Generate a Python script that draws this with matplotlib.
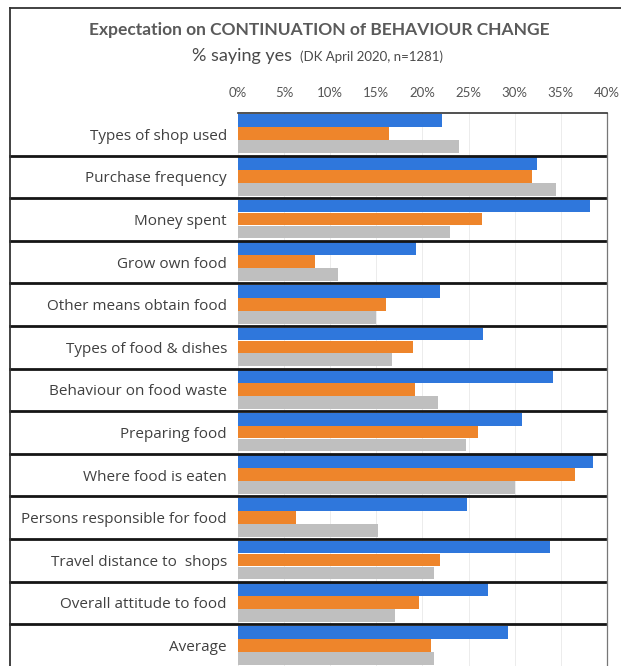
import matplotlib
matplotlib.use("Agg")
import matplotlib.pyplot as plt
from matplotlib.transforms import blended_transform_factory
import numpy as np

plt.rcParams['font.family'] = ['Lato', 'DejaVu Sans']

categories = [
    "Types of shop used",
    "Purchase frequency",
    "Money spent",
    "Grow own food",
    "Other means obtain food",
    "Types of food & dishes",
    "Behaviour on food waste",
    "Preparing food",
    "Where food is eaten",
    "Persons responsible for food",
    "Travel distance to  shops",
    "Overall attitude to food",
    "Average",
]

# % saying yes, three groups per behaviour
series_1 = [22.1, 32.4, 38.2, 19.3, 21.9, 26.6, 34.2, 30.8, 38.5, 24.8, 33.8, 27.1, 29.3]
series_2 = [16.4, 31.9, 26.4, 8.4, 16.0, 19.0, 19.2, 26.0, 36.5, 6.3, 21.9, 19.6, 20.9]
series_3 = [24.0, 34.5, 23.0, 10.8, 15.0, 16.7, 21.7, 24.7, 30.0, 15.2, 21.2, 17.0, 21.3]

tick_values = [0, 5, 10, 15, 20, 25, 30, 35, 40]
tick_labels = [f"{v}%" for v in tick_values]

W, H = 621, 666
fig = plt.figure(figsize=(W / 100, H / 100), dpi=100)
fig.patch.set_facecolor("white")

def fx(px):
    return px / W

def fy(py):
    return 1 - py / H

ax = fig.add_axes([fx(238), 0, fx(607) - fx(238), fy(113)])

n = len(categories)
y = np.arange(n)
bh = 0.30
colors = ["#2f77dc", "#ee852b", "#bfbfbf"]
for k, (vals, c) in enumerate(zip([series_1, series_2, series_3], colors)):
    ax.barh(y + (k - 1) * 0.305 - 0.01, vals, height=bh, color=c, zorder=3)

ax.set_xlim(0, 40)
ax.set_ylim(n - 0.5 - 0.02, -0.5)

ax.set_xticks(tick_values)
ax.set_xticklabels(tick_labels)
ax.xaxis.tick_top()
ax.tick_params(axis="x", length=0, pad=10, labelsize=9.5, labelcolor="#555555")
ax.set_yticks(y)
ax.set_yticklabels(categories, family=["Open Sans", "DejaVu Sans"])
ax.tick_params(axis="y", length=0, pad=8, labelsize=11, labelcolor="#404040")

ax.grid(axis="x", color="#ececec", lw=0.7, zorder=0)
ax.set_axisbelow(True)
for side in ["left", "bottom"]:
    ax.spines[side].set_visible(False)
ax.spines["top"].set_color("#333333")
ax.spines["top"].set_linewidth(1.2)
ax.spines["right"].set_color("#777777")
ax.spines["right"].set_linewidth(0.9)

# row separators running across the label column and the bars
trans = blended_transform_factory(fig.transFigure, ax.transData)
for b in np.arange(0.5, n - 0.5, 1.0):
    ax.plot([fx(10), fx(605)], [b, b], color="#151515", lw=2.0,
            transform=trans, clip_on=False, zorder=5)

# outer frame
fig.add_artist(plt.Line2D([fx(10), fx(10)], [0, fy(8)], color="#333333", lw=1.3))
fig.add_artist(plt.Line2D([fx(10), 1], [fy(8), fy(8)], color="#333333", lw=1.3))

fig.text(fx(319), fy(30), "Expectation on CONTINUATION of BEHAVIOUR CHANGE",
         ha="center", va="center", fontsize=12.5, fontweight="bold", color="#5a5a5a")
fig.text(fx(292), fy(56), "% saying yes", ha="right", va="center",
         fontsize=13, color="#4a4a4a")
fig.text(fx(300), fy(57), "(DK April 2020, n=1281)", ha="left", va="center",
         fontsize=9.5, color="#4a4a4a")

fig.savefig("out.png", dpi=100, facecolor="white")
